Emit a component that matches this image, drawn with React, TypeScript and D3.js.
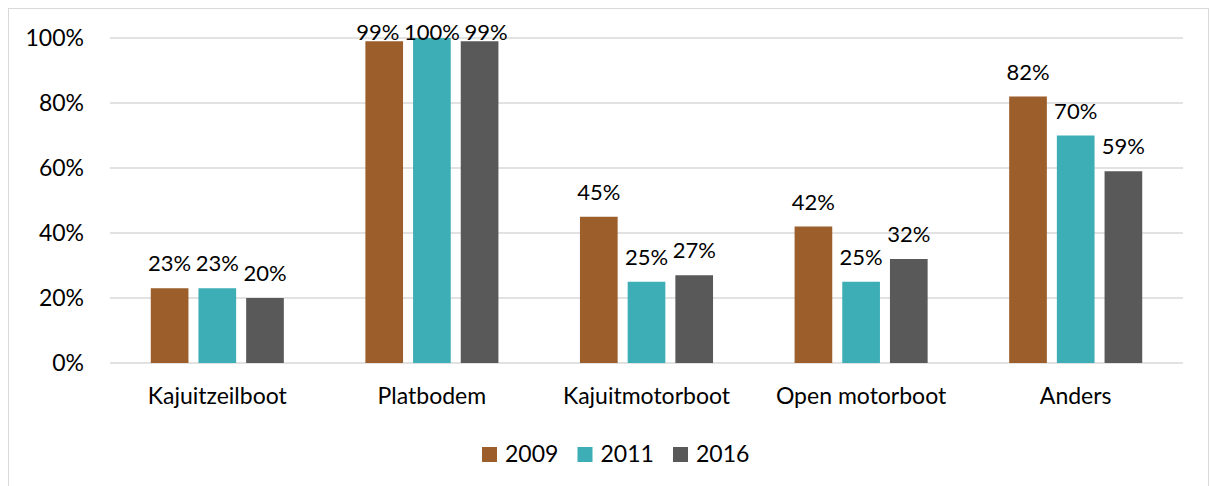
import React from 'react';
import * as d3 from 'd3';

const categories = ['Kajuitzeilboot', 'Platbodem', 'Kajuitmotorboot', 'Open motorboot', 'Anders'];
const years = ['2009', '2011', '2016'];
const values2009 = [23, 99, 45, 42, 82];
const values2011 = [23, 100, 25, 25, 70];
const values2016 = [20, 99, 27, 32, 59];
const yTicks = [0, 20, 40, 60, 80, 100];
const colors = ['#9C5F2B', '#3DAEB5', '#595959'];

const W = 1210;
const H = 486;
const FONT = 'Lato, "Open Sans", sans-serif';
const FS = 23;
const LFS = 22;

// rough Lato text width for labels like "99%"
const labelWidth = (s: string) => (s.length - 1) * 0.58 * LFS + 0.83 * LFS;

export default function App() {
  const series = [values2009, values2011, values2016];

  const x = d3.scaleBand<string>().domain(categories).range([110, 1183]);
  const bw = x.bandwidth();
  const xi = d3.scaleBand<string>()
    .domain(years)
    .range([bw * 0.19, bw * 0.81])
    .paddingInner(0.21);
  const y = d3.scaleLinear().domain([0, 100]).range([363, 38]);

  const legendX = d3.scalePoint<string>().domain(years).range([482, 673]);

  // label positions per category, pushed apart when they collide
  const labelPos = categories.map((c, ci) => {
    const items = years.map((yr, si) => {
      const v = series[si][ci];
      const top = y(v);
      return {
        v,
        text: `${v}%`,
        cx: (xi(yr) as number) + xi.bandwidth() / 2,
        ly: Math.max(top - 17, 39.5),
      };
    });
    const orig = items.map(d => d.cx);
    for (let i = 1; i < items.length; i++) {
      const a = items[i - 1];
      const b = items[i];
      if (Math.abs(a.ly - b.ly) > LFS) continue;
      const need = labelWidth(a.text) / 2 + labelWidth(b.text) / 2 + 4;
      if (b.cx - a.cx < need) b.cx = a.cx + need;
    }
    const shift = d3.mean(items, (d, i) => d.cx - orig[i]) || 0;
    items.forEach(d => { d.cx -= shift; });
    return items;
  });

  return (
    <svg width={W} height={H} style={{ position: 'absolute', left: 0, top: 0, fontFamily: FONT }}>
      <rect x={8.5} y={8.5} width={1200} height={500} fill="#fff" stroke="#D9D9D9" />
      {yTicks.map(t => (
        <g key={t}>
          <line x1={110} x2={1183} y1={y(t)} y2={y(t)} stroke="#D9D9D9" strokeWidth={1.3} />
          <text x={84} y={y(t)} dy="0.35em" textAnchor="end" fontSize={FS} fill="#000">{t}%</text>
        </g>
      ))}
      {categories.map((c, ci) => (
        <g key={c} transform={`translate(${x(c)},0)`}>
          {years.map((yr, si) => {
            const v = series[si][ci];
            const bx = xi(yr) as number;
            const top = y(v);
            return (
              <rect key={yr} x={bx} y={top} width={xi.bandwidth()} height={y(0) - top} fill={colors[si]} />
            );
          })}
          {labelPos[ci].map((d, si) => (
            <text key={si} x={d.cx} y={d.ly} textAnchor="middle" fontSize={LFS} fill="#000">{d.text}</text>
          ))}
          <text x={bw / 2} y={404} textAnchor="middle" fontSize={FS} fill="#000">{c}</text>
        </g>
      ))}
      {years.map((yr, si) => (
        <g key={yr} transform={`translate(${legendX(yr)},0)`}>
          <rect x={0} y={447} width={15} height={15} fill={colors[si]} />
          <text x={23} y={462} fontSize={FS} fill="#000">{yr}</text>
        </g>
      ))}
    </svg>
  );
}
